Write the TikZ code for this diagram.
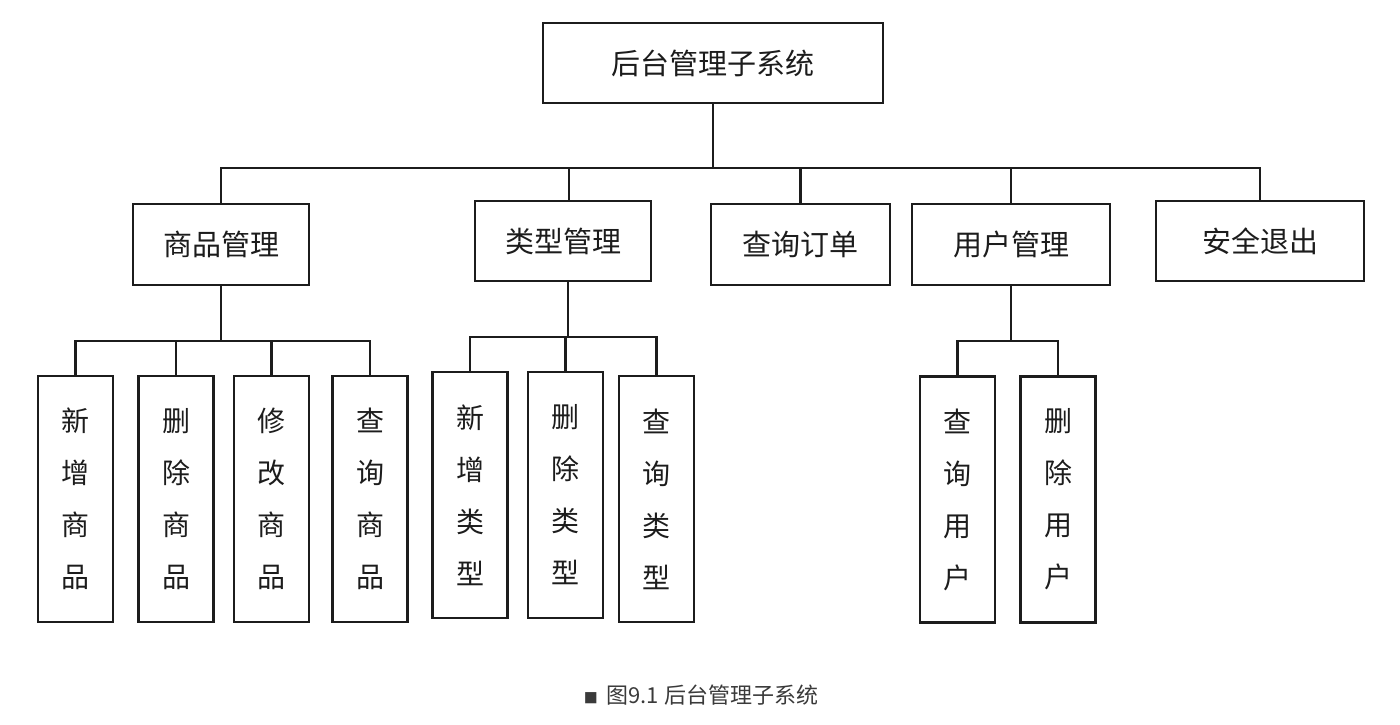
\documentclass[tikz,border=0pt]{standalone}
\usepackage{fontspec}
\usetikzlibrary{positioning,calc}
\newfontfamily\cjk{Noto Sans CJK SC}
\definecolor{Ink}{HTML}{1C1C1C}
\definecolor{Cap}{HTML}{3A3A3A}
\tikzset{
 every node/.style={text=Ink},
 link/.style={draw=Ink,line width=2.6pt},
 mod/.style={draw=Ink,line width=2.6pt,fill=white,inner sep=0pt,minimum height=81pt,font=\cjk\fontsize{29pt}{34pt}\selectfont},
 leaf/.style={draw=Ink,line width=2.6pt,fill=white,inner sep=0pt,minimum width=75pt,minimum height=246pt,align=center,font=\cjk\fontsize{28pt}{52pt}\selectfont},
 caption/.style={text=Cap,font=\cjk\fontsize{22pt}{24pt}\selectfont},
 }
\begin{document}
\begin{tikzpicture}[x=1pt,y=-1pt]
 \useasboundingbox(0,0)rectangle(1400,724);
 \node[mod,minimum width=340pt,minimum height=80pt](root)at(713,63){后台管理子系统};
 % first level
 \node[mod,minimum width=176pt](gm)at(221,244.5){商品管理};
 \node[mod,minimum width=176pt,minimum height=80pt](lm)at(563,241){类型管理};
 \node[mod,minimum width=179pt](dd)at(800.5,244.5){查询订单};
 \node[mod,minimum width=198pt](yh)at(1011,244.5){用户管理};
 \node[mod,minimum width=208pt,minimum height=80pt](tc)at(1260,241){安全退出};
 \coordinate(bus)at(0,168);
 \draw[link](root.south)--(root.south|-bus)-|(gm.north);
 \draw[link](root.south)--(root.south|-bus)-|([xshift=6pt]lm.north);
 \draw[link](root.south)--(root.south|-bus)-|(dd.north);
 \draw[link](root.south)--(root.south|-bus)-|(yh.north);
 \draw[link](root.south)--(root.south|-bus)-|(tc.north);
 % goods
 \node[leaf](gm1)at(75.5,499){新\\增\\商\\品};
 \node[leaf](gm2)at(176,499){删\\除\\商\\品};
 \node[leaf](gm3)at(271.5,499){修\\改\\商\\品};
 \node[leaf](gm4)at(370,499){查\\询\\商\\品};
 \coordinate(gbus)at(0,341);
 \draw[link](gm.south)--(gm.south|-gbus)-|(gm1.north);
 \draw[link](gm.south)--(gm.south|-gbus)-|(gm2.north);
 \draw[link](gm.south)--(gm.south|-gbus)-|(gm3.north);
 \draw[link](gm.south)--(gm.south|-gbus)-|(gm4.north);
 % types
 \node[leaf](lm1)at(470,495){新\\增\\类\\型};
 \node[leaf](lm2)at(565.5,495){删\\除\\类\\型};
 \node[leaf](lm3)at(656.5,499){查\\询\\类\\型};
 \coordinate(lbus)at(0,337);
 \draw[link]([xshift=5pt]lm.south)--([xshift=5pt]lm.south|-lbus)-|(lm1.north);
 \draw[link]([xshift=5pt]lm.south)--([xshift=5pt]lm.south|-lbus)-|(lm2.north);
 \draw[link]([xshift=5pt]lm.south)--([xshift=5pt]lm.south|-lbus)-|(lm3.north);
 % users
 \node[leaf](yh1)at(957.5,499.5){查\\询\\用\\户};
 \node[leaf](yh2)at(1058,499.5){删\\除\\用\\户};
 \coordinate(ybus)at(0,341);
 \draw[link](yh.south)--(yh.south|-ybus)-|(yh1.north);
 \draw[link](yh.south)--(yh.south|-ybus)-|(yh2.north);
 \node[caption](cap)at(701,695){{\fontsize{14pt}{16pt}\selectfont ■}\, 图9.1 后台管理子系统};
\end{tikzpicture}
\end{document}
